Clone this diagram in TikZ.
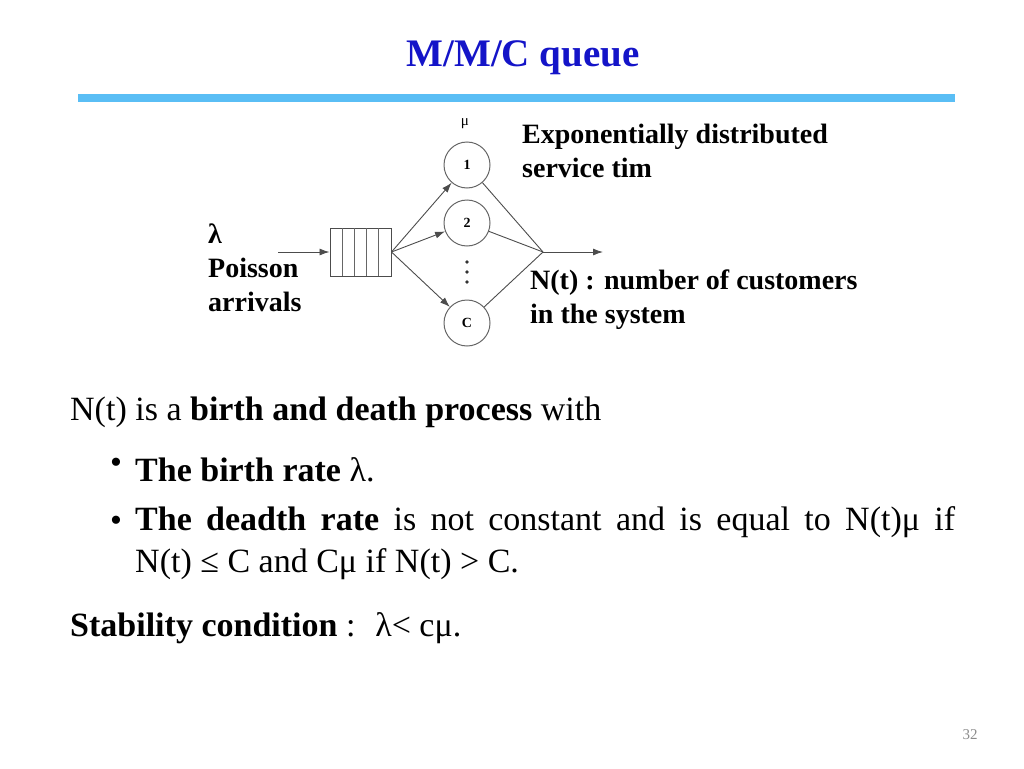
\documentclass[tikz,border=0pt]{standalone}
\usepackage{fontspec}
\setmainfont{Liberation Serif}
\usetikzlibrary{arrows.meta}
\begin{document}
\begin{tikzpicture}[x=1pt,y=-1pt,
  srv/.style={circle,draw=black!60,line width=1pt,minimum size=46pt,inner sep=0pt,font=\fontsize{14}{16}\selectfont\bfseries},
  con/.style={draw=black!70,line width=0.9pt},
  arr/.style={con,-{Latex[length=10pt,width=7pt]}},
  lbl/.style={font=\fontsize{28}{34}\selectfont\bfseries,align=left,anchor=north west,inner sep=0pt},
  body/.style={font=\fontsize{34}{42}\selectfont,anchor=west,inner sep=0pt}]
\useasboundingbox (0,0) rectangle (1024,768);
\node[font=\fontsize{39}{44}\selectfont\bfseries,text={rgb,255:red,20;green,20;blue,200}] (title) at (523,58) {M/M/C queue};
\fill[color={rgb,255:red,90;green,190;blue,245}] (78,94) rectangle (955,102);
% queue
\node[draw=black!70,line width=1pt,minimum width=61pt,minimum height=48pt,inner sep=0pt] (q) at (360.5,252) {};
\foreach \x in {342,354,366,378} \draw[black!60,line width=0.8pt] (\x,228) -- (\x,276);
\coordinate (in) at (278,252);
\draw[arr] (in) -- (q.west);
\node[srv] (s1) at (467,165) {1};
\node[srv] (s2) at (467,223) {2};
\node[srv] (sc) at (467,323) {C};
\foreach \y [count=\i] in {262,272,282} \fill[black!80] (467,\y) circle (1.8pt) node (d\i) {};
\node[font=\fontsize{15}{15}\selectfont] (mu) at (465,124) {μ};
\coordinate (m) at (543,252);
\coordinate (out) at (603,252);
\draw[arr] (q.east) -- (s1);
\draw[arr] (q.east) -- (s2);
\draw[arr] (q.east) -- (sc);
\draw[con] (s1) -- (m);
\draw[con] (s2) -- (m);
\draw[con] (sc) -- (m);
\draw[arr] (m) -- (out);
\node[lbl] (lam) at (208,224) {λ\\Poisson\\arrivals};
\node[lbl] (exp) at (522,124) {Exponentially distributed\\service tim};
\node[lbl] (nt) at (530,270) {N(t) : number of customers\\in the system};
% body
\node[body] (l1) at (70,412) {N(t) is a \textbf{birth and death process} with};
\node[body] (b1) at (110,466) {•};
\node[body] (t1) at (135,470) {\textbf{The birth rate} λ.};
\node[body] (b2) at (110,524) {•};
\node[body,anchor=north west,text width=820pt,align=justify] (t2) at (135,506) {\textbf{The deadth rate} is not constant and is equal to N(t)μ if N(t)~≤~C and Cμ if N(t) > C.};
\node[body] (st) at (70,628) {\textbf{Stability condition} :~ λ< cμ.};
\node[font=\fontsize{15}{15}\selectfont,text=black!45] (pg) at (970,735) {32};
\end{tikzpicture}
\end{document}
